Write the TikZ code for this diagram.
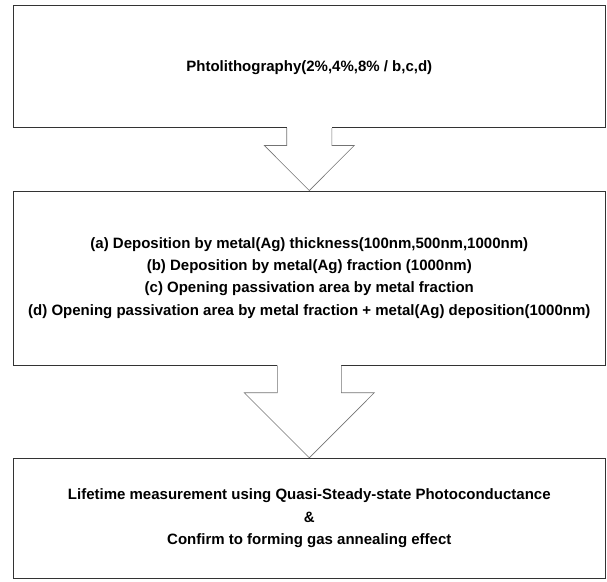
\documentclass[tikz,border=0pt]{standalone}
\usepackage{fontspec}
\setmainfont{Liberation Sans}
\usepackage{tikz}
\usetikzlibrary{calc}
\usetikzlibrary{math}

\tikzset{
    stagebox/.style={draw=black!80, line width=0.9pt, minimum width=592pt, inner sep=0pt},
    stagetext/.style={anchor=base, align=center, inner sep=0pt,
        font=\fontsize{15}{22.4}\selectfont\bfseries},
    blockarrow/.style={draw=black!55, line width=0.6pt, line join=miter},
}

\begin{document}
\begin{tikzpicture}[x=1pt,y=1pt]
            \useasboundingbox (0,0) rectangle (607,-581);
            \tikzmath{\axe = 309.3;}
            % les trois etapes
            \node[stagebox, minimum height=122.4pt] (box1) at (\axe,-66.5) {};
            \node[stagebox, minimum height=174pt] (box2) at (\axe,-278) {};
            \node[stagebox, minimum height=120.4pt] (box3) at (\axe,-518.5) {};
            % base = ligne du bas
            \node[stagetext] (txt1) at ($(box1.north)+(0,-66.4)$) {Phtolithography(2\%,4\%,8\% / b,c,d)};
            \node[stagetext] (txt2) at ($(box2.north)+(0,-124.7)$) {(a) Deposition by metal(Ag) thickness(100nm,500nm,1000nm)\\
                (b) Deposition by metal(Ag) fraction (1000nm)\\
                (c) Opening passivation area by metal fraction\\
                (d) Opening passivation area by metal fraction + metal(Ag) deposition(1000nm)};
            \node[stagetext] (txt3) at ($(box3.north)+(0,-86.7)$) {Lifetime measurement using Quasi-Steady-state Photoconductance\\
                \&\\
                Confirm to forming gas annealing effect};
            % fleches
            \foreach \a/\b/\w/\h/\s in {box1/box2/22.6/45/17.3, box2/box3/32/65/27.3} {
                \fill[white] ($(\a.south)+(-\w,1)$) rectangle ($(\a.south)+(\w,-\s)$);
                \draw[blockarrow] ($(\a.south)+(-\w,0)$) -- ($(\a.south)+(-\w,-\s)$) -- ($(\a.south)+(-\h,-\s)$)
                    -- (\b.north) -- ($(\a.south)+(\h,-\s)$) -- ($(\a.south)+(\w,-\s)$) -- ($(\a.south)+(\w,0)$);
            }
        \end{tikzpicture}
\end{document}
